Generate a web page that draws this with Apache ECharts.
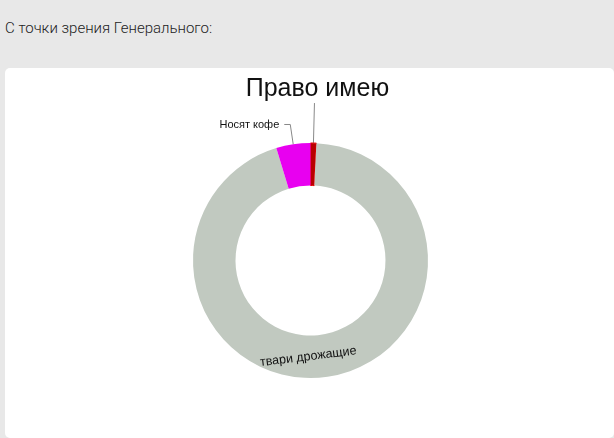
<!doctype html>
<html lang="ru">
<head>
<meta charset="utf-8">
<title>С точки зрения Генерального</title>
<script src="https://cdn.jsdelivr.net/npm/echarts@6/dist/echarts.min.js"></script>
<style>
  body { margin: 0; background: #e8e8e8; width: 614px; height: 438px; overflow: hidden; position: relative; }
  #caption { position: absolute; left: 5px; top: 19px; font: 300 15px Roboto, sans-serif; color: #222; }
  #chart { position: absolute; left: 5px; top: 68px; width: 609px; height: 370px; background: #fff; border-radius: 5px; }
</style>
</head>
<body>
<div id="caption">С точки зрения Генерального:</div>
<div id="chart"></div>

<script>
// доли (в процентах)
var names = ['Право имею', 'твари дрожащие', 'Носят кофе'];
var values = [0.8, 94.5, 4.7];
var colors = ['#b80000', '#c1c9c0', '#e800f0'];

var myChart = echarts.init(document.getElementById('chart'));

var data = names.map(function (n, i) {
    var d = { name: n, value: values[i], itemStyle: { color: colors[i] } };
    if (i == 0) {
        d.itemStyle.borderColor = '#e60000';
        d.itemStyle.borderWidth = 1;
        d.label = { fontSize: 25, color: '#111' };
        d.labelLine = { length: 40, length2: 0 };
    }
    if (i == 1) {
        d.label = { position: 'inside', rotate: 'tangential', fontSize: 12.5, color: '#111' };
    }
    if (i == 2) {
        d.label = { fontSize: 11, color: '#111' };
        d.labelLine = { length: 20, length2: 6 };
    }
    return d;
});

myChart.setOption({
    animation: false,
    series: [{
        type: 'pie',
        silent: true,
        center: [305.5, 192.5],
        radius: [75, 117.5],
        startAngle: 90,
        avoidLabelOverlap: false,
        label: {
            fontFamily: '"Liberation Sans", Arial, sans-serif',
            formatter: '{b}'
        },
        labelLine: {
            lineStyle: { color: '#888', width: 1 }
        },
        labelLayout: function (p) {
            if (p.dataIndex === 0 && p.labelLinePoints) {
                var end = p.labelLinePoints[1];
                return {
                    x: end[0] + 3,
                    y: end[1] - 1,
                    align: 'center',
                    verticalAlign: 'bottom',
                    labelLinePoints: p.labelLinePoints
                };
            }
            if (p.dataIndex === 1) {
                return { dx: -14, dy: -4 };
            }
        },
        data: data
    }]
});
</script>
</body>
</html>
